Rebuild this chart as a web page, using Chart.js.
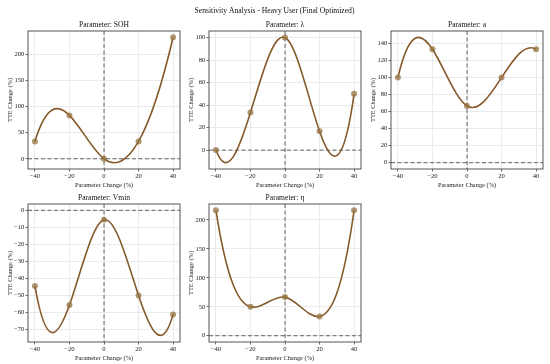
<!DOCTYPE html>
<html lang="en">
<head>
<meta charset="UTF-8">
<title>Sensitivity Analysis - Heavy User</title>
<script src="https://cdn.jsdelivr.net/npm/chart.js"></script>
<style>
  html, body { margin: 0; padding: 0; background: #fff; }
  #fig { position: relative; width: 550px; height: 364px; overflow: hidden; }
  canvas { position: absolute; }
</style>
</head>
<body>
<div id="fig">
  <canvas id="suptitle" width="550" height="22" style="left:0;top:0;width:550px;height:22px"></canvas>
</div>
<script>
// x values shared by every panel
const paramChange = [-40, -20, 0, 20, 40];
const xTicks = [-40, -20, 0, 20, 40];

// TTE change (%) per parameter
const sohValues = [33.3, 83.3, 0, 33.3, 233.3];
const lambdaValues = [0, 33.3, 100, 16.7, 50];
const aValues = [100, 133.3, 66.7, 100, 133.3];
const vminValues = [-44.4, -55.6, -5.6, -50, -61.1];
const etaValues = [216.7, 50, 66.7, 33.3, 216.7];

const sohTicks = [0, 50, 100, 150, 200];
const lambdaTicks = [0, 20, 40, 60, 80, 100];
const aTicks = [0, 20, 40, 60, 80, 100, 120, 140];
const vminTicks = [0, -10, -20, -30, -40, -50, -60, -70];
const etaTicks = [0, 50, 100, 150, 200];

const FONT = "'Liberation Serif', 'Times New Roman', serif";
const LINE_COLOR = '#86592b';
const DOT_COLOR = 'rgba(150, 115, 65, 0.75)';
const SUPTITLE = 'Sensitivity Analysis - Heavy User (Final Optimized)';

// panel placement (plot area in page pixels) and axis limits
const panels = [
  { title: 'Parameter: SOH',  values: sohValues,    yTicks: sohTicks,    yMin: -19.6, yMax: 245.4, left: 28,  top: 31,  w: 152, h: 138 },
  { title: 'Parameter: \u03bb', values: lambdaValues, yTicks: lambdaTicks, yMin: -16.8, yMax: 105.8, left: 209, top: 31,  w: 152, h: 138 },
  { title: 'Parameter: a',    values: aValues,      yTicks: aTicks,      yMin: -7.4,  yMax: 154.8, left: 391, top: 31,  w: 152, h: 138 },
  { title: 'Parameter: Vmin', values: vminValues,   yTicks: vminTicks,   yMin: -77.3, yMax: 3.7,   left: 28,  top: 204, w: 152, h: 138 },
  { title: 'Parameter: \u03b7', values: etaValues,  yTicks: etaTicks,    yMin: -10.8, yMax: 227.5, left: 209, top: 204, w: 152, h: 138 }
];

function fmt(v) {
  return v < 0 ? '\u2212' + Math.abs(v) : String(v);
}

// second derivatives of a not-a-knot cubic spline
function splineSecondDerivs(xs, ys) {
  const n = xs.length, h = [];
  for (let i = 0; i < n - 1; i++) h.push(xs[i + 1] - xs[i]);
  const A = [], b = [];
  for (let i = 0; i < n; i++) { A.push(new Array(n).fill(0)); b.push(0); }
  A[0][0] = h[1]; A[0][1] = -(h[0] + h[1]); A[0][2] = h[0];
  for (let i = 1; i < n - 1; i++) {
    A[i][i - 1] = h[i - 1];
    A[i][i] = 2 * (h[i - 1] + h[i]);
    A[i][i + 1] = h[i];
    b[i] = 6 * ((ys[i + 1] - ys[i]) / h[i] - (ys[i] - ys[i - 1]) / h[i - 1]);
  }
  A[n - 1][n - 3] = h[n - 2]; A[n - 1][n - 2] = -(h[n - 3] + h[n - 2]); A[n - 1][n - 1] = h[n - 3];
  for (let c = 0; c < n; c++) {
    let p = c;
    for (let r = c + 1; r < n; r++) if (Math.abs(A[r][c]) > Math.abs(A[p][c])) p = r;
    [A[c], A[p]] = [A[p], A[c]];
    [b[c], b[p]] = [b[p], b[c]];
    for (let r = c + 1; r < n; r++) {
      const f = A[r][c] / A[c][c];
      for (let k = c; k < n; k++) A[r][k] -= f * A[c][k];
      b[r] -= f * b[c];
    }
  }
  const M = new Array(n).fill(0);
  for (let r = n - 1; r >= 0; r--) {
    let s = b[r];
    for (let k = r + 1; k < n; k++) s -= A[r][k] * M[k];
    M[r] = s / A[r][r];
  }
  return M;
}

const panelPlugin = {
  id: 'panel',
  beforeDatasetsDraw(chart) {
    const { ctx, chartArea: a, scales: { x, y } } = chart;
    ctx.save();
    ctx.beginPath();
    ctx.rect(a.left, a.top, a.width, a.height);
    ctx.clip();

    // dashed reference lines at 0
    ctx.strokeStyle = 'rgba(0,0,0,0.6)';
    ctx.lineWidth = 1;
    ctx.setLineDash([4, 2.5]);
    const x0 = x.getPixelForValue(0), y0 = y.getPixelForValue(0);
    ctx.beginPath();
    ctx.moveTo(a.left, y0); ctx.lineTo(a.right, y0);
    ctx.moveTo(x0, a.top); ctx.lineTo(x0, a.bottom);
    ctx.stroke();

    // smooth curve: each spline piece is one cubic bezier
    ctx.setLineDash([]);
    const pts = chart.data.datasets[0].data;
    const xs = pts.map(p => p.x), ys = pts.map(p => p.y);
    const M = splineSecondDerivs(xs, ys);
    ctx.beginPath();
    ctx.moveTo(x.getPixelForValue(xs[0]), y.getPixelForValue(ys[0]));
    for (let i = 0; i < xs.length - 1; i++) {
      const h = xs[i + 1] - xs[i], s = (ys[i + 1] - ys[i]) / h;
      const d0 = s - h * (2 * M[i] + M[i + 1]) / 6;
      const d1 = s + h * (M[i] + 2 * M[i + 1]) / 6;
      ctx.bezierCurveTo(
        x.getPixelForValue(xs[i] + h / 3), y.getPixelForValue(ys[i] + d0 * h / 3),
        x.getPixelForValue(xs[i + 1] - h / 3), y.getPixelForValue(ys[i + 1] - d1 * h / 3),
        x.getPixelForValue(xs[i + 1]), y.getPixelForValue(ys[i + 1]));
    }
    ctx.strokeStyle = LINE_COLOR;
    ctx.lineWidth = 1.6;
    ctx.stroke();
    ctx.restore();
  },
  afterDraw(chart, args, opts) {
    const { ctx, chartArea: a } = chart;
    ctx.save();
    ctx.strokeStyle = '#555';
    ctx.lineWidth = 1;
    ctx.strokeRect(a.left, a.top, a.width, a.height);
    ctx.fillStyle = '#111';
    ctx.font = '7.6px ' + FONT;
    ctx.textAlign = 'center';
    ctx.textBaseline = 'middle';
    ctx.fillText(opts.title, (a.left + a.right) / 2, a.top - 6.5);
    ctx.restore();
  }
};

// figure title
const sctx = document.getElementById('suptitle').getContext('2d');
sctx.fillStyle = '#111';
sctx.font = '7.6px ' + FONT;
sctx.textAlign = 'center';
sctx.textBaseline = 'middle';
sctx.fillText(SUPTITLE, 274.5, 11);

const fig = document.getElementById('fig');

panels.forEach(p => {
  const cv = document.createElement('canvas');
  const cw = p.w + 34, ch = p.h + 38;
  cv.width = cw; cv.height = ch;
  cv.style.left = (p.left - 28) + 'px';
  cv.style.top = (p.top - 14) + 'px';
  cv.style.width = cw + 'px';
  cv.style.height = ch + 'px';
  fig.appendChild(cv);

  const gridOpts = { color: '#e6e6e6', lineWidth: 0.8, tickColor: '#444', tickLength: 2.5, tickWidth: 0.8 };
  const tickOpts = { font: { family: FONT, size: 6.6 }, color: '#222', padding: 1.2, maxRotation: 0, autoSkip: false, callback: v => fmt(v) };

  new Chart(cv, {
    type: 'scatter',
    data: {
      datasets: [{
        data: paramChange.map((v, i) => ({ x: v, y: p.values[i] })),
        backgroundColor: DOT_COLOR,
        borderWidth: 0,
        pointRadius: 3,
        pointHoverRadius: 3
      }]
    },
    options: {
      responsive: false,
      animation: false,
      events: [],
      layout: { padding: { left: 0, top: 14, right: 6, bottom: 0 } },
      plugins: {
        legend: { display: false },
        tooltip: { enabled: false },
        panel: { title: p.title }
      },
      scales: {
        x: {
          type: 'linear', min: -44, max: 44,
          afterBuildTicks: s => { s.ticks = xTicks.map(v => ({ value: v })); },
          afterFit: s => { s.height = 24; },
          grid: gridOpts,
          border: { display: false },
          ticks: tickOpts,
          title: { display: true, text: 'Parameter Change (%)', font: { family: FONT, size: 6.4 }, color: '#222', padding: { top: 0, bottom: 4.2 } }
        },
        y: {
          type: 'linear', min: p.yMin, max: p.yMax,
          afterBuildTicks: s => { s.ticks = p.yTicks.map(v => ({ value: v })); },
          afterFit: s => { s.width = 28; },
          grid: gridOpts,
          border: { display: false },
          ticks: tickOpts,
          title: { display: true, text: 'TTE Change (%)', font: { family: FONT, size: 6.4 }, color: '#222', padding: { top: 6.2, bottom: 0 } }
        }
      }
    },
    plugins: [panelPlugin]
  });
});
</script>
</body>
</html>
